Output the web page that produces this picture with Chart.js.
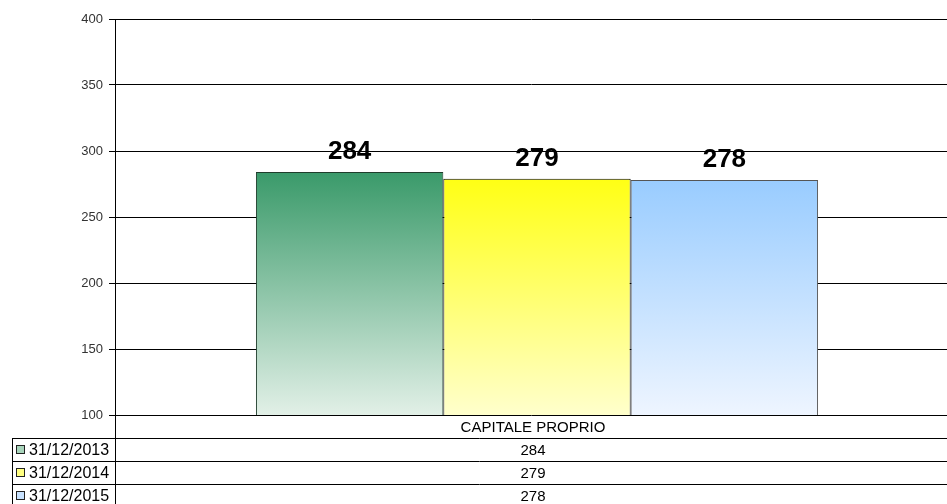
<!DOCTYPE html>
<html>
<head>
<meta charset="utf-8">
<script src="https://cdn.jsdelivr.net/npm/chart.js@4/dist/chart.umd.min.js"></script>
<style>
    html, body { margin: 0; padding: 0; background: #fff; }
    #wrap { width: 947px; height: 504px; }
</style>
</head>
<body>
<div id="wrap"><canvas id="chart" width="947" height="504"></canvas></div>
<script>
var categories = ['CAPITALE PROPRIO'];
var seriesNames = ['31/12/2013', '31/12/2014', '31/12/2015'];
var values2013 = [284];
var values2014 = [279];
var values2015 = [278];
var yTicks = [100, 150, 200, 250, 300, 350, 400];

var FONT = '"Liberation Sans", Arial, sans-serif';
var topColors = ['#3a9a6a', '#ffff14', '#99ccff'];
var bottomColors = ['#e2f0e7', '#ffffcc', '#eef5ff'];
var edgeColors = ['#1f3d2c', '#000000', '#555555'];
var swatchColors = ['#a8d4bb', '#ffff80', '#c8e2ff'];

function barGradient(i) {
    return function (ctx) {
        var chart = ctx.chart;
        var area = chart.chartArea;
        if (!area) return topColors[i];
        var top = chart.scales.y.getPixelForValue(ctx.raw);
        var g = chart.ctx.createLinearGradient(0, top, 0, area.bottom);
        g.addColorStop(0, topColors[i]);
        g.addColorStop(1, bottomColors[i]);
        return g;
    };
}

var seriesValues = [values2013, values2014, values2015];

// value labels above bars + data table underneath
var extras = {
    id: 'extras',
    afterLayout: function (chart) {
        // the original plot runs a little past the right edge of the picture
        var xs = chart.scales.x;
        xs.right = chart.width + 12;
        xs.width = xs.right - xs.left;
        xs.configure();
    },
    afterDatasetsDraw: function (chart) {
        var c = chart.ctx;
        c.save();
        c.font = 'bold 26px ' + FONT;
        c.fillStyle = '#000';
        c.textAlign = 'center';
        c.textBaseline = 'middle';
        chart.data.datasets.forEach(function (ds, i) {
            chart.getDatasetMeta(i).data.forEach(function (bar, j) {
                c.fillText(String(ds.data[j]), bar.x, bar.y - 20);
            });
        });
        c.restore();
    },
    afterDraw: function (chart) {
        var c = chart.ctx;
        var area = chart.chartArea;
        var left = area.left, right = chart.width;
        var rowH = 23;
        var tableLeft = 12;
        c.save();
        c.strokeStyle = '#000';
        c.lineWidth = 1;
        // axis line continues through table
        c.beginPath();
        c.moveTo(left + 0.5, area.bottom);
        c.lineTo(left + 0.5, chart.height);
        c.stroke();
        // left border of legend column
        c.beginPath();
        c.moveTo(tableLeft + 0.5, area.bottom + rowH);
        c.lineTo(tableLeft + 0.5, chart.height);
        c.stroke();
        for (var r = 1; r <= seriesNames.length; r++) {
            var y = Math.round(area.bottom + r * rowH) + 0.5;
            c.beginPath();
            c.moveTo(tableLeft, y);
            c.lineTo(right, y);
            c.stroke();
        }
        c.font = '15px ' + FONT;
        c.fillStyle = '#000';
        c.textBaseline = 'middle';
        c.textAlign = 'center';
        var cx = (left + right) / 2 + 2;
        categories.forEach(function (cat, j) {
            c.fillText(cat, cx, area.bottom + rowH / 2 + 1);
            seriesValues.forEach(function (vals, i) {
                c.fillText(String(vals[j]), cx, area.bottom + (i + 1.5) * rowH + 1);
            });
        });
        c.textAlign = 'left';
        c.font = '16px ' + FONT;
        seriesNames.forEach(function (name, i) {
            var yc = area.bottom + (i + 1.5) * rowH;
            c.fillStyle = swatchColors[i];
            c.fillRect(16.5, Math.round(yc) - 4.5, 8, 8);
            c.strokeStyle = '#222';
            c.strokeRect(16.5, Math.round(yc) - 4.5, 8, 8);
            c.fillStyle = '#000';
            c.fillText(name, 29, yc + 1);
        });
        c.restore();
    }
};

new Chart(document.getElementById('chart'), {
    type: 'bar',
    data: {
        labels: categories,
        datasets: seriesValues.map(function (vals, i) {
            return {
                label: seriesNames[i],
                data: vals,
                backgroundColor: barGradient(i),
                borderColor: edgeColors[i],
                borderWidth: 1,
                borderSkipped: 'bottom',
                categoryPercentage: 0.666,
                barPercentage: 1
            };
        })
    },
    options: {
        responsive: false,
        animation: false,
        layout: { padding: { top: 19, bottom: 89, left: 0, right: 0 } },
        plugins: {
            legend: { display: false },
            tooltip: { enabled: false }
        },
        scales: {
            x: {
                afterFit: function (scale) { scale.height = 0; },
                ticks: { display: false },
                grid: { display: false },
                border: { display: false }
            },
            y: {
                min: yTicks[0],
                max: yTicks[yTicks.length - 1],
                afterBuildTicks: function (scale) {
                    scale.ticks = yTicks.map(function (v) { return { value: v }; });
                },
                afterFit: function (scale) { scale.width = 115; },
                ticks: {
                    color: '#333',
                    font: { family: FONT, size: 13 },
                    padding: 6
                },
                grid: { color: '#000', lineWidth: 1, tickLength: 6 },
                border: { display: true, color: '#000', width: 1 }
            }
        }
    },
    plugins: [extras]
});
</script>
</body>
</html>
